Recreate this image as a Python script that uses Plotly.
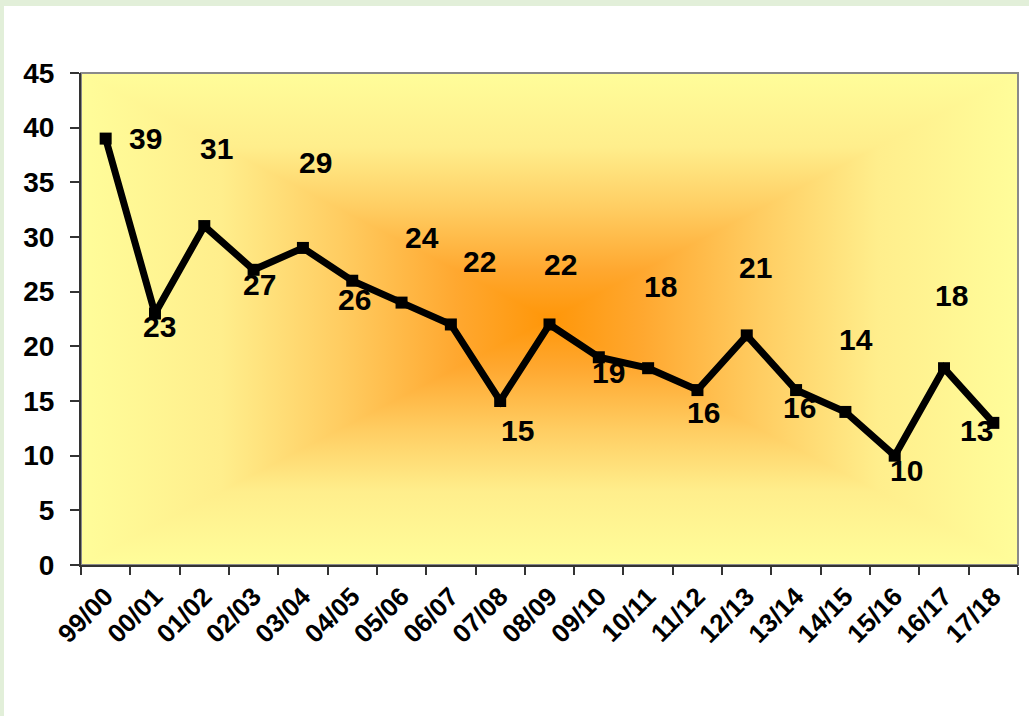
import base64
import plotly.graph_objects as go

seasons = ["99/00", "00/01", "01/02", "02/03", "03/04", "04/05", "05/06", "06/07", "07/08",
           "08/09", "09/10", "10/11", "11/12", "12/13", "13/14", "14/15", "15/16", "16/17", "17/18"]
values = [39, 23, 31, 27, 29, 26, 24, 22, 15, 22, 19, 18, 16, 21, 16, 14, 10, 18, 13]

# label offsets in pixels (dx, dy with +dy = up), as placed in the original
label_dx = [40, 5, 12, 6, 13, 2, 20, 29, 17, 11, 10, 12, 6, 9, 3, 11, 12, 7, -17]
label_dy = [0, -13, 78, -15, 85, -19, 65, 63, -29, 60, -15, 82, -22, 68, -17, 72, -15, 73, -8]

FONT = "Arial, 'Liberation Sans', sans-serif"

# rectangular "from centre" gradient stops (centre -> edge)
stops = [(0.0, "#FF9608"), (0.2, "#FFA830"), (0.45, "#FFCD62"), (0.7, "#FFEE8C"), (1.0, "#FFFD9A")]
stop_xml = "".join(f'<stop offset="{o}" stop-color="{c}"/>' for o, c in stops)


def grad(gid, x2, y2):
    return (f'<linearGradient id="{gid}" gradientUnits="userSpaceOnUse" x1="50" y1="50" '
            f'x2="{x2}" y2="{y2}">{stop_xml}</linearGradient>')


svg = ('<svg xmlns="http://www.w3.org/2000/svg" width="400" height="400" viewBox="0 0 100 100" '
       'preserveAspectRatio="none"><defs>'
       + grad("t", 50, 0) + grad("b", 50, 100) + grad("l", 0, 50) + grad("r", 100, 50)
       + '</defs>'
       '<rect x="0" y="0" width="51" height="100" fill="url(#l)"/>'
       '<rect x="50" y="0" width="50" height="100" fill="url(#r)"/>'
       '<polygon points="0,0 100,0 50,50" fill="url(#t)"/>'
       '<polygon points="0,100 100,100 50,50" fill="url(#b)"/>'
       '</svg>')
bg_src = "data:image/svg+xml;base64," + base64.b64encode(svg.encode()).decode()

fig = go.Figure()
fig.add_trace(go.Scatter(
    x=seasons, y=values, mode="lines+markers",
    line=dict(color="black", width=7),
    marker=dict(symbol="square", size=12, color="black"),
    hoverinfo="x+y", showlegend=False,
))

for s, v, dx, dy in zip(seasons, values, label_dx, label_dy):
    fig.add_annotation(x=s, y=v, text=str(v), showarrow=False, xshift=dx, yshift=dy,
                       font=dict(family=FONT, size=30, color="black", weight="bold"))

fig.add_layout_image(source=bg_src, xref="paper", yref="paper", x=0, y=1, sizex=1, sizey=1,
                     sizing="stretch", xanchor="left", yanchor="top", layer="below")

# plot area border
fig.add_shape(type="rect", xref="paper", yref="paper", x0=0, y0=0, x1=1, y1=1,
              line=dict(color="#8a8a8a", width=2), layer="below")
# pale green page edges
fig.add_shape(type="rect", xref="paper", yref="paper", xsizemode="pixel", ysizemode="pixel",
              xanchor=0, yanchor=1, x0=-90, x1=1000, y0=67, y1=90,
              fillcolor="#E2EFD9", line_width=0)
fig.add_shape(type="rect", xref="paper", yref="paper", xsizemode="pixel", ysizemode="pixel",
              xanchor=0, yanchor=1, x0=-90, x1=-77, y0=-700, y1=90,
              fillcolor="#E2EFD9", line_width=0)

fig.update_layout(
    width=1029, height=716,
    margin=dict(l=81, r=11, t=73, b=151),
    paper_bgcolor="white", plot_bgcolor="rgba(0,0,0,0)",
    font=dict(family=FONT, color="black"),
)
fig.update_xaxes(
    type="category", range=[-0.5, 18.5], tickson="boundaries",
    ticks="outside", ticklen=8, tickcolor="#333", tickwidth=1.5,
    showline=True, linecolor="#333", linewidth=2,
    tickangle=-45, ticklabelstandoff=4,
    tickfont=dict(family=FONT, size=26, color="black", weight="bold"),
    showgrid=False, zeroline=False,
)
fig.update_yaxes(
    range=[0, 45], dtick=5, ticks="outside", ticklen=9, tickcolor="#333", tickwidth=1.5,
    showline=True, linecolor="#333", linewidth=2, ticklabelstandoff=10,
    tickfont=dict(family=FONT, size=28, color="black", weight="bold"),
    showgrid=False, zeroline=False,
)

fig.write_html("out.html", config={"displayModeBar": False},
               post_script="document.body.style.margin='0';")
